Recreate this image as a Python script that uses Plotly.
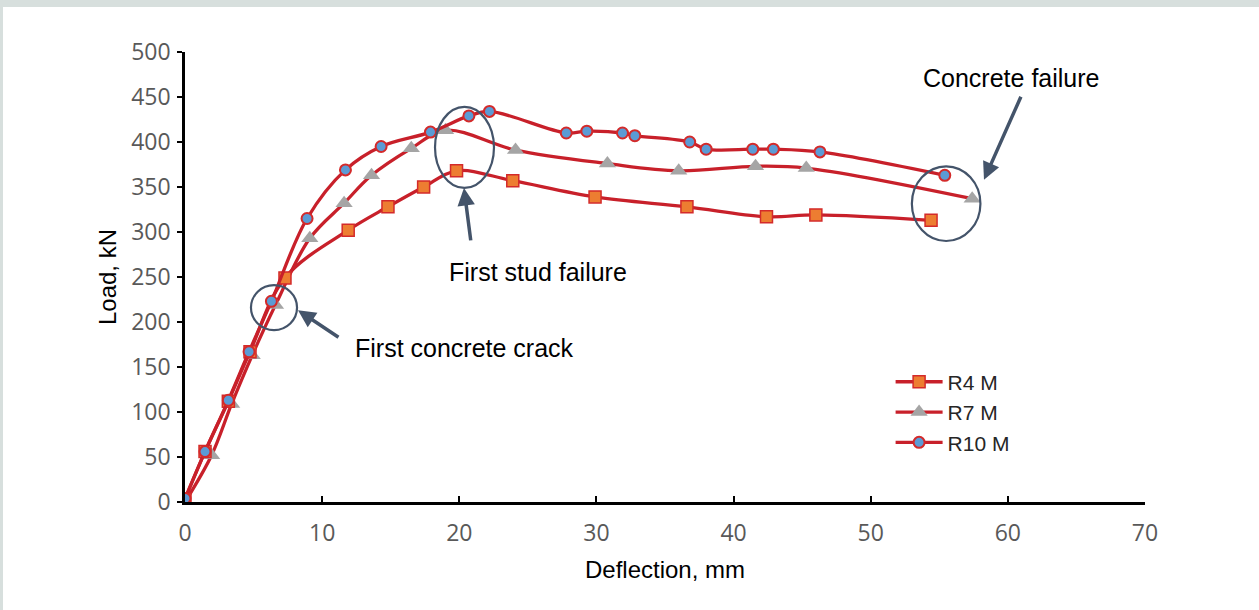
import plotly.graph_objects as go

# ---- data ----
r4_x = [0, 1.46, 3.16, 4.74, 7.29, 11.9, 14.8, 17.4, 19.8, 23.9, 29.9, 36.6, 42.4, 46.0, 54.4]
r4_y = [3, 56, 112, 167, 249, 302, 328, 350, 368, 357, 339, 328, 317, 319, 313]

r7_x = [0, 1.94, 3.4, 4.9, 6.6, 9.1, 11.6, 13.6, 16.5, 19.0, 24.1, 30.8, 36.0, 41.6, 45.3, 57.4]
r7_y = [0, 52, 109, 163, 219, 293, 332, 363, 393, 413, 391, 376, 368, 373, 371, 337]

r10_x = [0, 1.46, 3.16, 4.67, 6.3, 8.9, 11.7, 14.3, 17.9, 20.7, 22.2, 27.8, 29.3, 31.9, 32.8,
         36.8, 38.0, 41.4, 42.9, 46.3, 55.4]
r10_y = [4, 56, 113, 167, 223, 315, 369, 395, 411, 429, 434, 410, 412, 410, 407,
         400, 392, 392, 392, 389, 363]

x_ticks = [0, 10, 20, 30, 40, 50, 60, 70]
y_ticks = [0, 50, 100, 150, 200, 250, 300, 350, 400, 450, 500]

RED = "#c8202a"
SLATE = "#44546a"

fig = go.Figure()

# grey frame + white card
fig.add_shape(type="rect", xref="paper", yref="paper",
              x0=(3 - 185) / 960, x1=(1262 - 185) / 960,
              y0=(502 - 615) / 450, y1=(502 - 7) / 450,
              fillcolor="white", line_width=0, layer="below")

fig.add_trace(go.Scatter(
    x=r7_x, y=r7_y, name="R7 M", mode="lines+markers", legendrank=2,
    line=dict(color=RED, width=3.3, shape="spline", smoothing=1),
    marker=dict(symbol="triangle-up", size=15, color="#a5a5a5", line=dict(width=0))))
fig.add_trace(go.Scatter(
    x=r4_x, y=r4_y, name="R4 M", mode="lines+markers", legendrank=1,
    line=dict(color=RED, width=3.3, shape="spline", smoothing=1),
    marker=dict(symbol="square", size=12, color="#ed7d31", line=dict(width=1.5, color="#d42a2a"))))
fig.add_trace(go.Scatter(
    x=r10_x, y=r10_y, name="R10 M", mode="lines+markers", legendrank=3,
    line=dict(color=RED, width=3.3, shape="spline", smoothing=1),
    marker=dict(symbol="circle", size=11, color="#5b9bd5", line=dict(width=2, color="#d42a2a"))))

# ellipses
for (x0, x1, y0, y1) in [(4.81, 8.17, 191, 241), (18.23, 22.53, 349, 439), (53.0, 58.0, 290, 373)]:
    fig.add_shape(type="circle", xref="x", yref="y", x0=x0, x1=x1, y0=y0, y1=y1,
                  line=dict(color=SLATE, width=2.2))

# arrows
for (hx, hy, tx, ty) in [(8.24, 213, 11.3, 182), (20.34, 349, 20.85, 289), (58.26, 358, 61.0, 452)]:
    fig.add_annotation(x=hx, y=hy, ax=tx, ay=ty, xref="x", yref="y", axref="x", ayref="y",
                       showarrow=True, arrowhead=2, arrowsize=1, arrowwidth=3.5,
                       arrowcolor=SLATE, text="")

txt_font = dict(family="Liberation Sans, Arial", size=25, color="black")
fig.add_annotation(x=12.25, y=171, text="First concrete crack", showarrow=False,
                   xanchor="left", yanchor="middle", font=txt_font)
fig.add_annotation(x=25.74, y=256, text="First stud failure", showarrow=False,
                   xanchor="center", yanchor="middle", font=txt_font)
fig.add_annotation(x=60.2, y=471, text="Concrete failure", showarrow=False,
                   xanchor="center", yanchor="middle", font=txt_font)

tick_font = dict(family="Open Sans", size=23, color="#595959")
title_font = dict(family="Liberation Sans, Arial", size=24, color="black")

fig.update_xaxes(range=[0, 70], tickvals=x_ticks, ticktext=[str(v) for v in x_ticks],
                 showgrid=False, zeroline=False, showline=True, linecolor="black", linewidth=2.5,
                 ticks="inside", ticklen=6, tickwidth=2, tickcolor="black",
                 tickfont=tick_font, ticklabelstandoff=9,
                 title=dict(text="Deflection, mm", font=title_font, standoff=14))
fig.update_yaxes(range=[0, 500], tickvals=y_ticks, ticktext=[str(v) for v in y_ticks],
                 showgrid=False, zeroline=False, showline=True, linecolor="black", linewidth=2.5,
                 ticks="outside", ticklen=5, tickwidth=2, tickcolor="black",
                 tickfont=tick_font, ticklabelstandoff=2,
                 title=dict(text="Load, kN", font=title_font, standoff=8))

fig.update_layout(
    width=1259, height=610,
    margin=dict(l=185, r=114, t=52, b=108),
    paper_bgcolor="#d7dfdd", plot_bgcolor="white",
    showlegend=True,
    legend=dict(x=0.735, y=0.312, xanchor="left", yanchor="top", bgcolor="rgba(0,0,0,0)",
                font=dict(family="Liberation Sans, Arial", size=21, color="#262626"),
                itemwidth=47, tracegroupgap=0),
)

fig.write_html("out.html")
